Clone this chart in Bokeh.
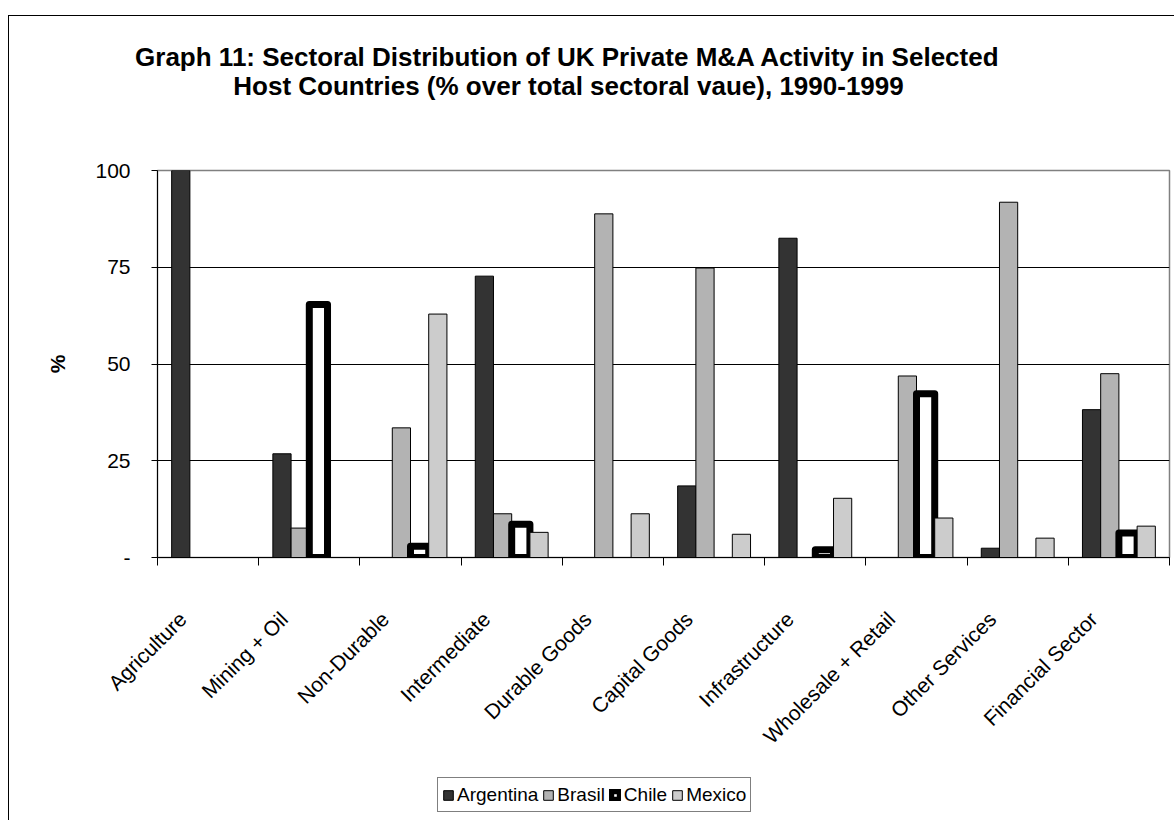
import math
from bokeh.plotting import figure
from bokeh.layouts import column
from bokeh.models import (ColumnDataSource, FixedTicker, LinearAxis, Range1d, Legend,
                          LegendItem, Title, Grid)
from bokeh.embed import file_html
from bokeh.resources import INLINE

# ---------------- data ----------------
categories = ["Agriculture", "Mining + Oil", "Non-Durable", "Intermediate", "Durable Goods",
              "Capital Goods", "Infrastructure", "Wholesale + Retail", "Other Services",
              "Financial Sector"]
argentina = [100.0, 26.8, 0, 72.7, 0, 18.5, 82.5, 0, 2.4, 38.2]
brasil = [0, 7.6, 33.5, 11.3, 88.8, 74.8, 0, 46.9, 91.8, 47.5]
chile = [0, 65.4, 2.9, 8.6, 0, 0, 2.0, 42.3, 0, 6.3]
mexico = [0, 0, 62.9, 6.5, 11.3, 6.0, 15.3, 10.2, 5.0, 8.1]
series_names = ["Argentina", "Brasil", "Chile", "Mexico"]
y_ticks = [0, 25, 50, 75, 100]
y_tick_labels = ["-", "25", "50", "75", "100"]
title_lines = ["Graph 11: Sectoral Distribution of UK Private M&A Activity in Selected",
               "Host Countries (% over total sectoral vaue), 1990-1999"]

FONT = "Liberation Sans"
CAT = 100          # width of one category slot in x units
BAR = 18           # bar width in x units
TITLE_PX = 26
AX_PX = "21px"
# Arial/Liberation Sans Bold advance widths (em) for centring the title lines
BOLD_W = {' ': .278, '%': .889, '&': .722, '(': .333, ')': .333, ',': .278, '-': .333,
          ':': .333, 'A': .722, 'C': .722, 'D': .722, 'G': .778, 'H': .722, 'K': .722,
          'M': .833, 'P': .667, 'S': .667, 'U': .722, 'a': .556, 'b': .611, 'c': .556,
          'd': .611, 'e': .556, 'f': .333, 'h': .611, 'i': .278, 'l': .278, 'n': .611,
          'o': .611, 'p': .611, 'r': .389, 's': .556, 't': .333, 'u': .611, 'v': .556,
          'y': .556}


def text_w(s, px):
    return sum(BOLD_W.get(ch, .556) for ch in s) * px


W = 1165
p = figure(width=W, height=759, x_range=Range1d(0, CAT * len(categories)),
           y_range=Range1d(0, 100), output_backend="svg", toolbar_location=None,
           x_axis_type=None, y_axis_type=None,
           min_border_left=148, min_border_right=5, min_border_top=154, min_border_bottom=218)
p.outline_line_color = "#808080"
p.outline_line_width = 1.5
p.background_fill_color = "white"
p.border_fill_color = "white"

grid = Grid(dimension=1, ticker=FixedTicker(ticks=y_ticks[1:-1]),
            grid_line_color="black", grid_line_width=1)
p.add_layout(grid)

styles = [
    dict(fill_color="#333333", line_color="black", line_width=1),
    dict(fill_color="#b3b3b3", line_color="black", line_width=1),
    dict(fill_color="white", line_color="black", line_width=7, line_join="round"),
    dict(fill_color="#cccccc", line_color="black", line_width=1),
]
for k, vals in enumerate([argentina, brasil, chile, mexico]):
    xs, tops = [], []
    for i, v in enumerate(vals):
        if v > 0:
            xs.append(CAT * i + CAT / 2 + (k - 1.5) * BAR)
            tops.append(v)
    src = ColumnDataSource(dict(x=xs, top=tops))
    p.vbar(x="x", top="top", bottom=0, width=BAR, source=src, **styles[k])

# y axis
yaxis = LinearAxis(ticker=FixedTicker(ticks=y_ticks),
                   major_label_overrides={t: l for t, l in zip(y_ticks, y_tick_labels)},
                   axis_label="%", axis_label_text_font=FONT, axis_label_text_font_size=AX_PX,
                   axis_label_text_font_style="bold", axis_label_standoff=23,
                   axis_label_text_color="black",
                   major_label_text_font=FONT, major_label_text_font_size=AX_PX,
                   major_label_text_color="black",
                   major_label_standoff=21, major_tick_in=0, major_tick_out=6,
                   minor_tick_out=0, minor_tick_in=0, axis_line_color="black",
                   major_tick_line_color="black")
p.add_layout(yaxis, "left")

# x axis: category labels on shifted ticks, tick marks between categories as minor ticks
label_pos = [CAT * i + 25 for i in range(len(categories))]
xaxis = LinearAxis(ticker=FixedTicker(ticks=label_pos,
                                      minor_ticks=[CAT * i for i in range(len(categories) + 1)]),
                   major_label_overrides={x: c for x, c in zip(label_pos, categories)},
                   major_label_orientation=math.pi / 4,
                   major_label_text_font=FONT, major_label_text_font_size=AX_PX,
                   major_label_text_color="black",
                   major_label_standoff=50, major_tick_in=0, major_tick_out=0,
                   minor_tick_in=0, minor_tick_out=8, minor_tick_line_color="black",
                   axis_line_color="black")
p.add_layout(xaxis, "below")

# title: spacer nearest the frame, then line 2, then line 1
p.add_layout(Title(text=" ", text_font_size="1px", standoff=68), "above")
for line in reversed(title_lines):
    off = 411 - text_w(line, TITLE_PX) / 2
    p.add_layout(Title(text=line, align="left", offset=off, text_font=FONT,
                       text_font_size=f"{TITLE_PX}px", text_font_style="bold",
                       text_color="black", standoff=-3), "above")

# legend strip underneath (its frame is aligned with the chart's frame by the column)
leg = figure(width=W, height=45, x_range=Range1d(0, 1), y_range=Range1d(0, 1),
             output_backend="svg", toolbar_location=None, x_axis_type=None, y_axis_type=None,
             min_border=0, outline_line_color=None)
leg.grid.visible = False
leg_renderers = []
for k in range(4):
    # one undrawable (NaN) sample so the legend swatch has a style to draw with
    leg_renderers.append(leg.vbar(x=[float("nan")], top=[float("nan")], bottom=[0],
                                  width=0.1, **styles[k]))
legend = Legend(items=[LegendItem(label=n, renderers=[r])
                       for n, r in zip(series_names, leg_renderers)],
                orientation="horizontal", location=(280, 8),
                border_line_color="black", border_line_width=1, background_fill_color="white",
                background_fill_alpha=1, label_text_font=FONT, label_text_font_size="19px",
                label_text_color="black",
                glyph_width=12, glyph_height=12, spacing=4, padding=4, margin=0,
                label_standoff=3, label_height=25)
leg.add_layout(legend, "center")

layout = column(p, leg, spacing=0)
layout.styles = {"border-left": "1px solid black", "border-top": "1px solid black",
                 "margin-left": "8px", "margin-top": "15px"}

open("out.html", "w").write(file_html(layout, INLINE))
